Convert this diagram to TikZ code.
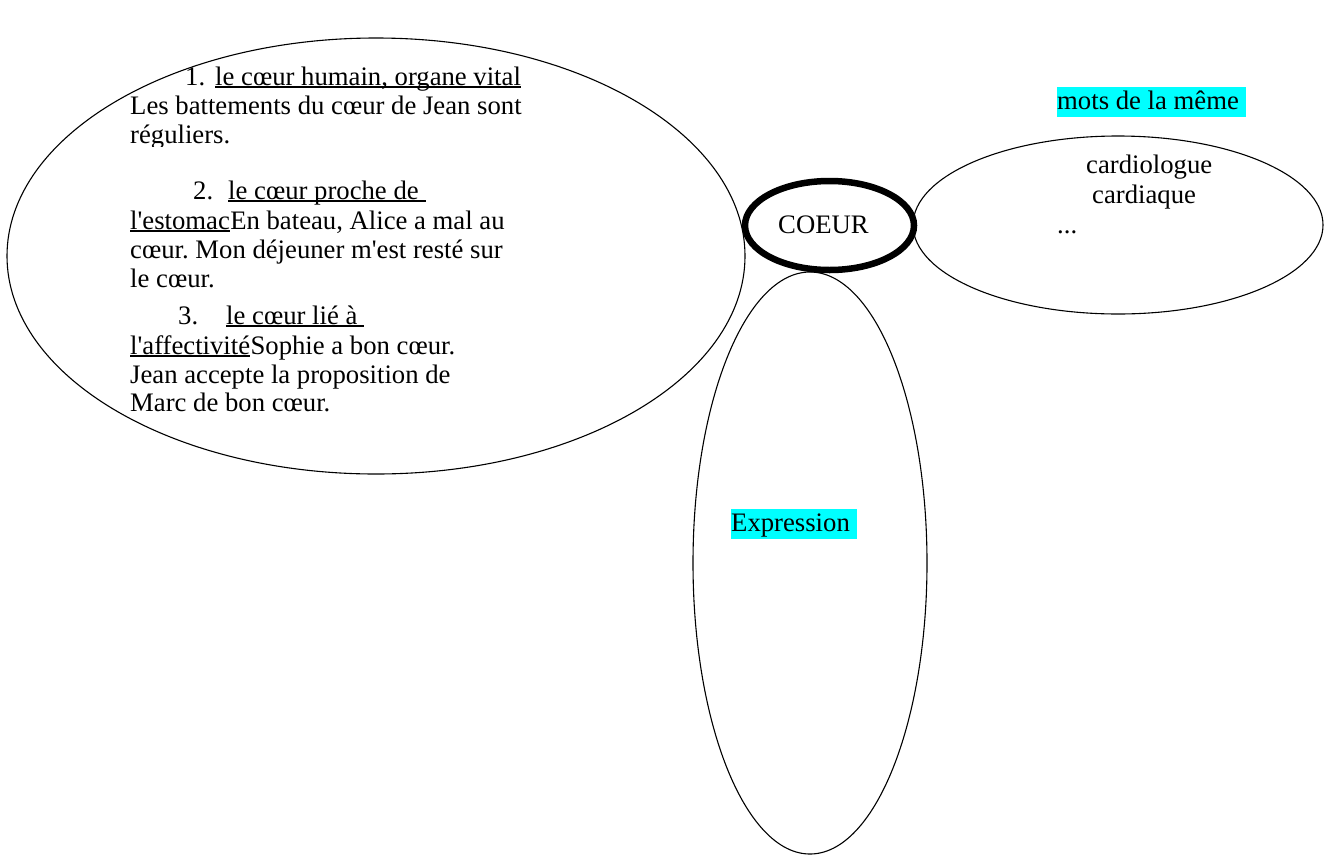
\documentclass[tikz,border=0pt]{standalone}
\usepackage{fontspec}
\setmainfont{Liberation Serif}
\usetikzlibrary{shapes.geometric}
\frenchspacing

\definecolor{hicyan}{RGB}{0,255,255}

\tikzset{
    bubble/.style={draw, ellipse, inner sep=0pt, line width=1.1pt},
    txt/.style={anchor=base west, inner sep=0pt, font=\fontsize{26.7}{29.3}\selectfont},
    hilite/.style={txt, fill=hicyan, text height=22pt, text depth=8pt},
    uline/.style={line width=1.6pt}
}

\begin{document}
\begin{tikzpicture}[x=1pt, y=-1pt]
    \useasboundingbox (0,0) rectangle (1332,857);

    \node[bubble, minimum width=738, minimum height=436] (sens) at (376,256) {};
    \node[bubble, minimum width=410, minimum height=178] (famille) at (1118,225) {};
    \node[bubble, minimum width=234, minimum height=582] (expr) at (810,563) {};
    \node[bubble, line width=6.5pt, minimum width=169, minimum height=89] (coeur) at (829.5,225.5) {};

    \node[txt] (coeurlabel) at (778,233) {COEUR};

    % sens du mot
    \begin{scope}
        \clip (100,50) rectangle (560,146);
        \node[txt] (n1) at (185,85) {1.};
        \node[txt] (u1) at (215,85) {le cœur humain, organe vital};
        \node[txt] (a1) at (130,114) {Les battements du cœur de Jean sont};
        \node[txt] (a2) at (130,143) {réguliers.};
    \end{scope}
    \begin{scope}
        \clip (100,170) rectangle (560,412);
        \node[txt] (n2) at (193,199) {2.};
        \node[txt] (u2) at (228,199) {le cœur proche de~\null};
        \node[txt] (u3) at (130,229) {l\textquotesingle estomac};
        \node[txt] (b1) at (u3.base east) {En bateau, Alice a mal au};
        \node[txt] (b2) at (130,258) {cœur. Mon déjeuner m\textquotesingle est resté sur};
        \node[txt] (b3) at (130,287) {le cœur.};
        \node[txt] (n3) at (178,324) {3.};
        \node[txt] (u4) at (226,324) {le cœur lié à~\null};
        \node[txt] (u5) at (130,354) {l\textquotesingle affectivité};
        \node[txt] (c1) at (u5.base east) {Sophie a bon cœur.};
        \node[txt] (c2) at (130,383) {Jean accepte la proposition de};
        \node[txt] (c3) at (130,411) {Marc de bon cœur.};
    \end{scope}

    \draw[uline] ([yshift=-2pt]u1.base west) -- ([yshift=-2pt]u1.base east);
    \draw[uline] ([yshift=-2pt]u2.base west) -- ([yshift=-2pt]u2.base east);
    \draw[uline] ([yshift=-2pt]u3.base west) -- ([yshift=-2pt]u3.base east);
    \draw[uline] ([yshift=-2pt]u4.base west) -- ([yshift=-2pt]u4.base east);
    \draw[uline] ([yshift=-2pt]u5.base west) -- ([yshift=-2pt]u5.base east);

    % famille du mot
    \node[hilite] (famtitle) at (1057,109) {mots de la même~\null};
    \node[txt] (f1) at (1086,173) {cardiologue};
    \node[txt] (f2) at (1092,203) {cardiaque};
    \node[txt] (f3) at (1057,233) {...};

    % expressions
    \node[hilite] (exprtitle) at (731,531) {Expression~\null};

\end{tikzpicture}
\end{document}
